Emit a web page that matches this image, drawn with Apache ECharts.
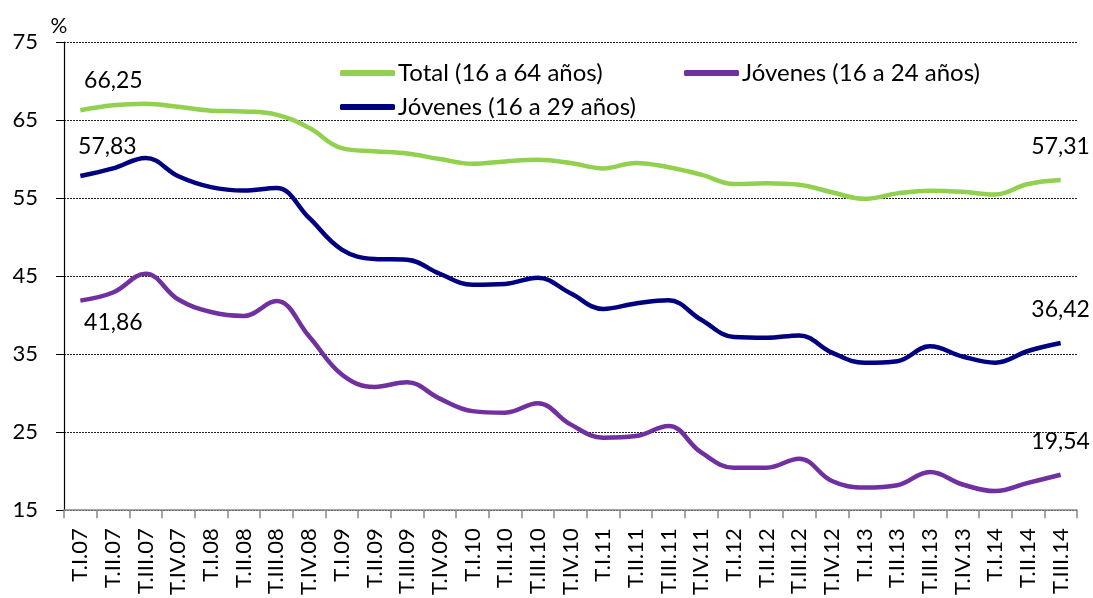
<!DOCTYPE html>
<html><head><meta charset="utf-8">
<script src="https://cdn.jsdelivr.net/npm/echarts@6/dist/echarts.min.js"></script>
<style>html,body{margin:0;padding:0;background:#fff}#c{width:1093px;height:598px}</style>
</head><body><div id="c"></div>
<script>
const categories = ['T.I.07','T.II.07','T.III.07','T.IV.07','T.I.08','T.II.08','T.III.08','T.IV.08','T.I.09','T.II.09','T.III.09','T.IV.09','T.I.10','T.II.10','T.III.10','T.IV.10','T.I.11','T.II.11','T.III.11','T.IV.11','T.I.12','T.II.12','T.III.12','T.IV.12','T.I.13','T.II.13','T.III.13','T.IV.13','T.I.14','T.II.14','T.III.14'];
const total1664 = [66.25,66.9,67.1,66.7,66.2,66.1,65.7,64.0,61.4,61.0,60.7,60.0,59.4,59.7,59.9,59.5,58.8,59.5,58.95,58.0,56.8,56.9,56.7,55.75,54.9,55.6,55.95,55.8,55.45,56.8,57.31];
const jov1629 = [57.83,58.8,60.15,57.8,56.4,55.96,56.3,52.45,48.4,47.2,47.1,45.3,43.9,44.0,44.8,42.8,40.8,41.5,41.9,39.4,37.2,37.1,37.4,35.2,33.9,34.1,36.0,34.7,33.9,35.4,36.42];
const jov1624 = [41.86,42.9,45.3,42.0,40.4,39.9,41.8,37.3,32.4,30.8,31.4,29.3,27.7,27.5,28.7,26.0,24.3,24.5,25.8,22.4,20.45,20.45,21.6,18.75,17.9,18.2,19.9,18.3,17.45,18.5,19.54];
const yTicks = [15,25,35,45,55,65,75];

const FONT = 'Lato, "Open Sans", sans-serif';
const fmt = v => String(v).replace('.', ',');
function withLabels(arr, firstPos, firstOff) {
  return arr.map((v, i) => {
    if (i === 0) return {value: v, label: {show: true, position: firstPos, distance: 5, offset: firstOff, formatter: p => fmt(p.value)}};
    if (i === arr.length - 1) return {value: v, label: {show: true, position: 'top', distance: 5, offset: [0, -17], formatter: p => fmt(p.value)}};
    return v;
  });
}
const chart = echarts.init(document.getElementById('c'));
const labelStyle = {fontFamily: FONT, fontSize: 23, color: '#000'};
const legText = {fontFamily: FONT, fontSize: 24, color: '#000', padding: [0, 0, 0, -2]};
chart.setOption({
  animation: false,
  textStyle: {fontFamily: FONT},
  grid: {left: 64, right: 16, top: 42, bottom: 87, containLabel: false},
  legend: [
    {data: ['Total (16 a 64 años)'], left: 335, top: 56, itemWidth: 55, itemHeight: 6, icon: 'roundRect', textStyle: legText},
    {data: ['Jóvenes (16 a 24 años)'], left: 679, top: 56, itemWidth: 55, itemHeight: 6, icon: 'roundRect', textStyle: legText},
    {data: ['Jóvenes (16 a 29 años)'], left: 335, top: 90, itemWidth: 55, itemHeight: 6, icon: 'roundRect', textStyle: legText}
  ],
  xAxis: {
    type: 'category', data: categories, boundaryGap: true,
    axisLine: {lineStyle: {color: '#888', width: 1.5}},
    axisTick: {show: true, length: 8, lineStyle: {color: '#888', width: 1.5}},
    axisLabel: {rotate: 90, fontSize: 22, color: '#000', fontFamily: FONT, interval: 0, margin: 18}
  },
  yAxis: {
    type: 'value', min: yTicks[0], max: yTicks[yTicks.length-1], interval: 10,
    name: '%', nameLocation: 'end', nameGap: 5,
    nameTextStyle: {fontSize: 21, color: '#000', fontFamily: FONT, align: 'center', padding: [0, 10, 0, 0]},
    axisLine: {show: true, lineStyle: {color: '#000', width: 1.2}},
    axisTick: {show: true, length: 8, inside: false, lineStyle: {color: '#000'}},
    axisLabel: {fontSize: 22, color: '#000', fontFamily: FONT, margin: 26},
    splitLine: {show: true, lineStyle: {type: [2, 1], color: '#222', width: 1}}
  },
  series: [
    {name: 'Total (16 a 64 años)', type: 'line', smooth: 0.4, symbol: 'circle', symbolSize: 0, showSymbol: true, data: withLabels(total1664, 'top', [33, -13]),
     lineStyle: {color: '#92D050', width: 4.5}, itemStyle: {color: '#92D050'}, label: labelStyle},
    {name: 'Jóvenes (16 a 24 años)', type: 'line', smooth: 0.4, symbol: 'circle', symbolSize: 0, showSymbol: true, data: withLabels(jov1624, 'bottom', [33, 5]),
     lineStyle: {color: '#7030A0', width: 4.5}, itemStyle: {color: '#7030A0'}, label: labelStyle},
    {name: 'Jóvenes (16 a 29 años)', type: 'line', smooth: 0.4, symbol: 'circle', symbolSize: 0, showSymbol: true, data: withLabels(jov1629, 'top', [27, -13]),
     lineStyle: {color: '#000080', width: 4.5}, itemStyle: {color: '#000080'}, label: labelStyle}
  ]
});
</script></body></html>
